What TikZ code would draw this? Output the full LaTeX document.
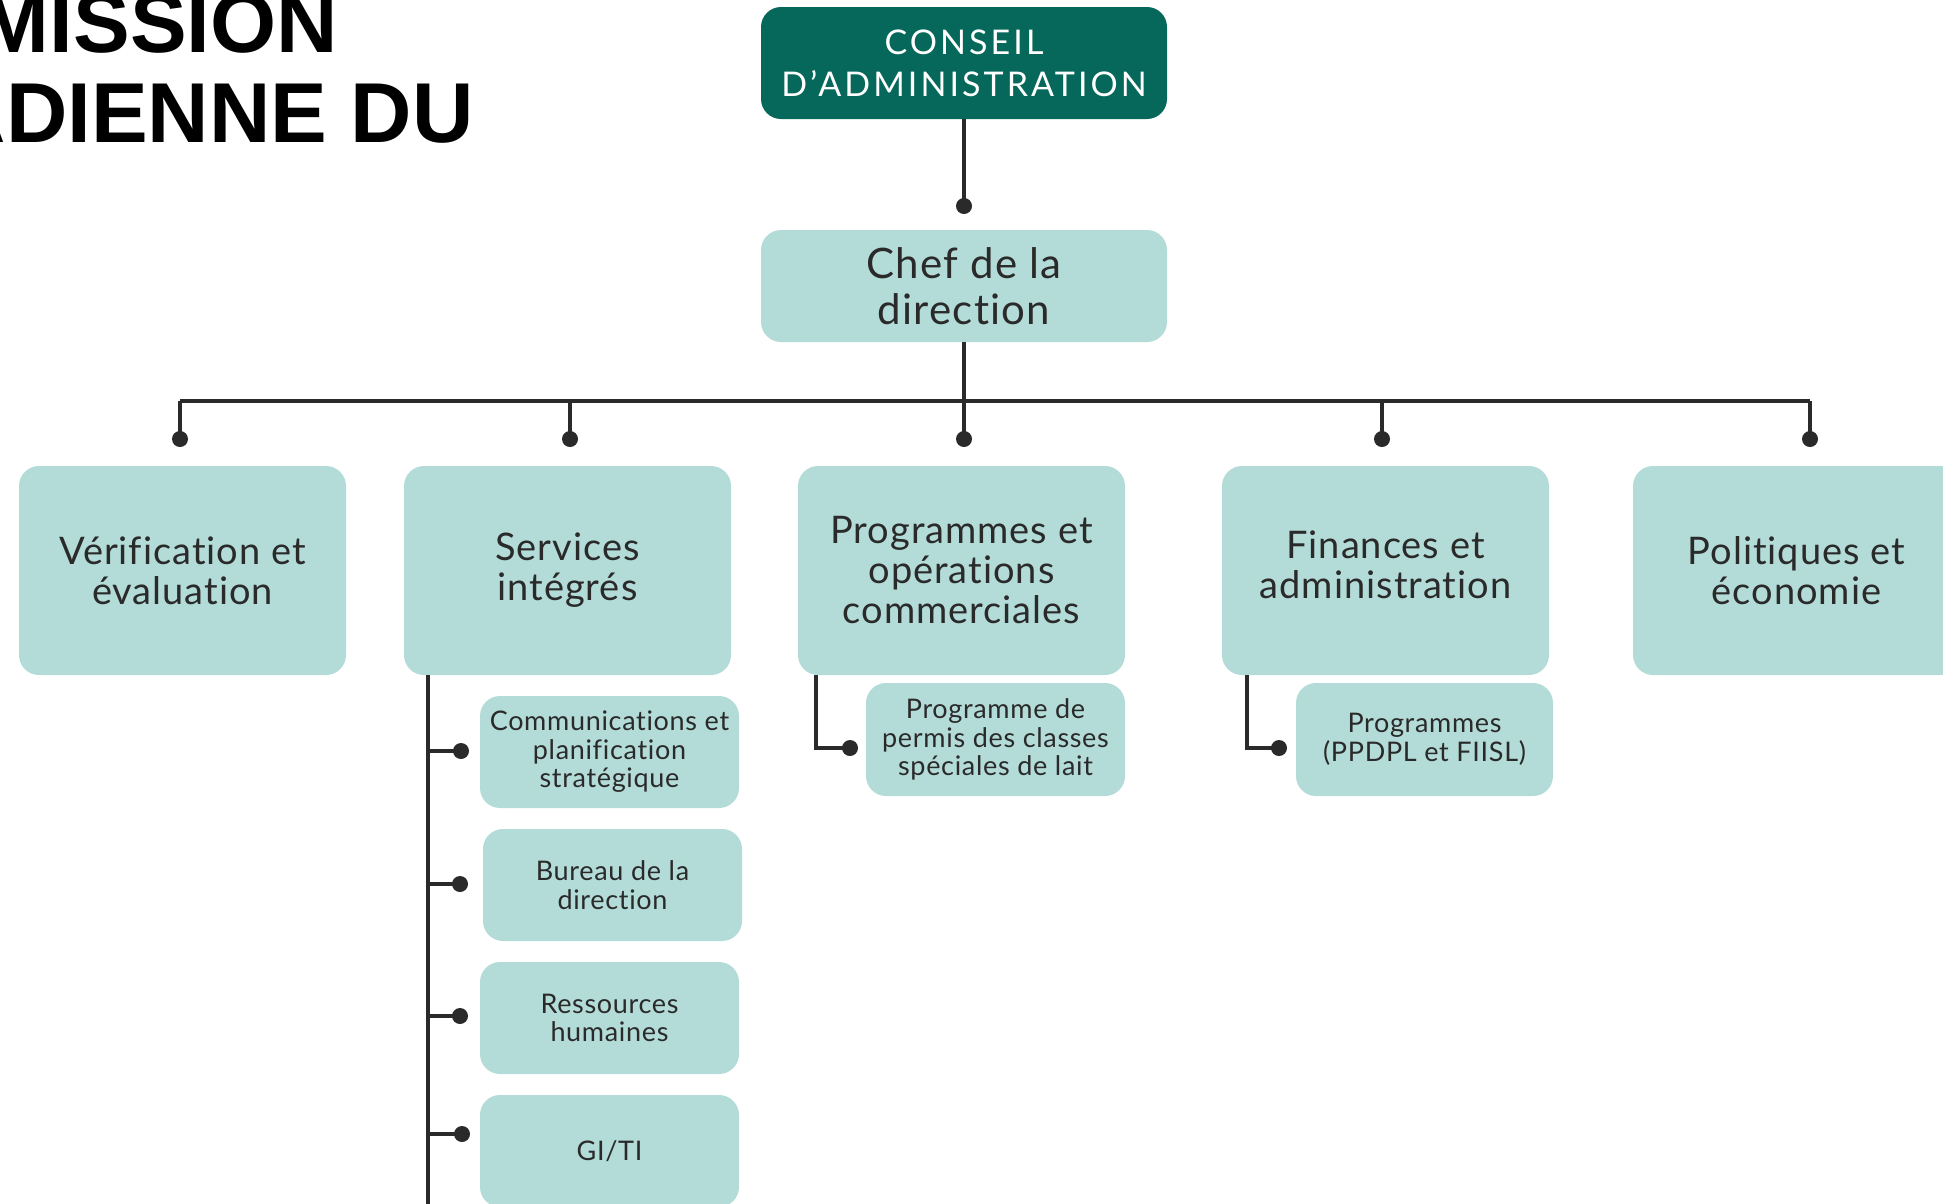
\documentclass[tikz,border=0pt]{standalone}
\usepackage{fontspec}
\setmainfont{Lato}[Ligatures=NoCommon]
\newfontfamily\titlefont{Liberation Sans}
\newfontfamily\topfont{Lato}[Ligatures=NoCommon, LetterSpace=9]
\newfontfamily\cheffont{Lato}[Ligatures=NoCommon, LetterSpace=3]
\newfontfamily\deptfont{Lato}[Ligatures=NoCommon, LetterSpace=2.6]
\newfontfamily\subfont{Lato}[Ligatures=NoCommon, LetterSpace=2.5]
\definecolor{darkteal}{HTML}{06685A}
\definecolor{lightteal}{HTML}{B3DCD8}
\definecolor{inkgray}{HTML}{2A2A2A}
\begin{document}
\begin{tikzpicture}[x=1pt,y=-1pt,
  box/.style={rounded corners=20pt, fill=lightteal, text=inkgray, align=center, inner sep=0pt, anchor=center},
  topbox/.style={box, fill=darkteal, text=white, minimum width=406pt, minimum height=112pt,
    font=\topfont\fontsize{34}{42}\selectfont},
  chefbox/.style={box, minimum width=406pt, minimum height=112pt, font=\cheffont\fontsize{42}{46}\selectfont},
  deptbox/.style={box, minimum width=327pt, minimum height=209pt, font=\deptfont\fontsize{38}{40}\selectfont},
  depttext/.style={align=center, inner sep=0pt, text=inkgray, font=\deptfont\fontsize{38}{40}\selectfont},
  subbox/.style={box, minimum width=259pt, minimum height=112pt, font=\subfont\fontsize{27}{28.5}\selectfont},
  link/.style={draw=inkgray, line width=4pt},
  dot/.style={fill=inkgray},
  titletext/.style={font=\titlefont\bfseries\fontsize{85}{85}\selectfont, text=black, inner sep=0pt, anchor=base east}
]
\useasboundingbox (0,0) rectangle (1943,1203);
\clip (0,0) rectangle (1943,1203);
\fill[white] (0,0) rectangle (1943,1203);

% title
\node[titletext] (t1) at (338,52) {MISSION};
\node[titletext] (t2) at (474,142) {ADIENNE DU};

% nodes
\node[topbox] (conseil) at (964,63) {CONSEIL\\D’ADMINISTRATION};
\node[chefbox] (chef) at (964,286) {Chef de la\\direction};

\node[deptbox] (ver) at (182.5,570.5) {Vérification et\\évaluation};
\node[deptbox] (serv) at (567.5,570.5) {Services\\intégrés};
\node[deptbox] (prog) at (961.5,570.5) {Programmes et\\opérations\\commerciales};
\node[deptbox] (fin) at (1385.5,570.5) {};
\node[depttext] (fintxt) at ([yshift=6pt]fin.center) {Finances et\\administration};
\node[deptbox] (pol) at (1796.5,570.5) {Politiques et\\économie};

\node[subbox] (comm) at (609.5,752) {Communications et\\planification\\stratégique};
\node[subbox] (bur) at (612.5,885) {Bureau de la\\direction};
\node[subbox] (ress) at (609.5,1018) {Ressources\\humaines};
\node[subbox] (giti) at (609.5,1151) {GI/TI};
\node[subbox, minimum height=113pt] (ppcsl) at (995.5,739.5) {Programme de\\permis des classes\\spéciales de lait};
\node[subbox, minimum height=113pt, minimum width=257pt] (ppdpl) at (1424.5,739.5) {Programmes\\(PPDPL et FIISL)};

% connector points
\coordinate (d0) at (964,206);
\coordinate (bus) at (964,401);
\coordinate (dv) at (180,439);
\coordinate (ds) at (570,439);
\coordinate (dp) at (964,439);
\coordinate (df) at (1382,439);
\coordinate (dpo) at (1810,439);
\coordinate (sline) at (428,675);
\coordinate (send) at (428,1210);
\coordinate (dc) at (461,751);
\coordinate (db) at (460,884);
\coordinate (dr) at (460,1016);
\coordinate (dg) at (462,1134);
\coordinate (pv) at (816,675);
\coordinate (dpp) at (850,748);
\coordinate (fv) at (1247,675);
\coordinate (dff) at (1279,748);

% connectors
\draw[link] (conseil.south) -- (d0);
\draw[link] (chef.south) -- (bus);
\draw[link] (dv |- bus) -- (dpo |- bus);
\foreach \d in {dv,ds,dp,df,dpo}{
  \draw[link] (\d |- bus) -- (\d);
  \fill[dot] (\d) circle (8);
}
\fill[dot] (d0) circle (8);

\draw[link] (sline) -- (send);
\foreach \d in {dc,db,dr,dg}{
  \draw[link] (sline |- \d) -- (\d);
  \fill[dot] (\d) circle (8);
}
\draw[link] (pv) -- (pv |- dpp) -- (dpp);
\fill[dot] (dpp) circle (8);
\draw[link] (fv) -- (fv |- dff) -- (dff);
\fill[dot] (dff) circle (8);
\end{tikzpicture}
\end{document}
